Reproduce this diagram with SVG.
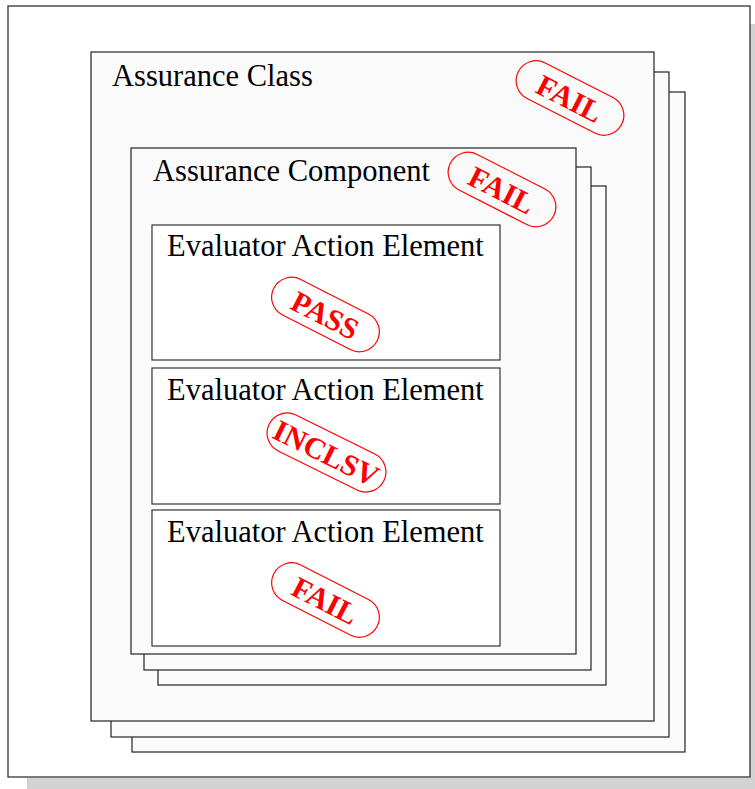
<svg xmlns="http://www.w3.org/2000/svg" width="755" height="789" viewBox="0 0 755 789">
  <style>
    .frame { fill: #ffffff; stroke: #333333; stroke-width: 1.3; }
    .sheet { fill: #fafafa; stroke: #222222; stroke-width: 1.2; }
    .box { fill: #ffffff; stroke: #333333; stroke-width: 1.2; }
    .label { font-family: "Liberation Serif", "Times New Roman", serif; font-size: 30.5px; fill: #000000; }
    .pill { fill: none; stroke: #ff0000; stroke-width: 1.2; }
    .verdict { font-family: "Liberation Serif", "Times New Roman", serif; font-size: 30px; font-weight: bold; fill: #ff0000; text-anchor: middle; }
  </style>

  <!-- page with drop shadow -->
  <rect x="27" y="778" width="728" height="11" fill="#d3d3d3"/>
  <rect x="750" y="24" width="5" height="765" fill="#d3d3d3"/>
  <rect class="frame" x="8" y="6" width="742" height="771"/>

  <!-- assurance class stack -->
  <g id="assurance-class">
    <rect class="sheet" x="132" y="92" width="553" height="660"/>
    <rect class="sheet" x="111" y="72" width="558" height="665"/>
    <rect class="sheet" x="91" y="52" width="563" height="669"/>
    <text class="label" x="112" y="86">Assurance Class</text>
    <g transform="translate(570,98) rotate(27)">
      <rect class="pill" x="-58" y="-20" width="116" height="40" rx="20"/>
      <text class="verdict" x="0" y="11">FAIL</text>
    </g>
  </g>

  <!-- assurance component stack -->
  <g id="assurance-component">
    <rect class="sheet" x="158" y="186" width="448" height="499"/>
    <rect class="sheet" x="144" y="167" width="447" height="503"/>
    <rect class="sheet" x="131" y="148" width="445" height="506"/>
    <text class="label" x="153" y="181">Assurance Component</text>
    <g transform="translate(502,189.5) rotate(27)">
      <rect class="pill" x="-58" y="-20" width="116" height="40" rx="20"/>
      <text class="verdict" x="0" y="11">FAIL</text>
    </g>
  </g>

  <!-- evaluator action elements -->
  <g id="element-1">
    <rect class="box" x="152" y="225" width="348" height="135"/>
    <text class="label" x="167" y="256">Evaluator Action Element</text>
    <g transform="translate(325.5,314.5) rotate(27)">
      <rect class="pill" x="-58" y="-20" width="116" height="40" rx="20"/>
      <text class="verdict" x="0" y="11">PASS</text>
    </g>
  </g>

  <g id="element-2">
    <rect class="box" x="152" y="368" width="348" height="136"/>
    <text class="label" x="167" y="400">Evaluator Action Element</text>
    <g transform="translate(326.5,452.5) rotate(26.3)">
      <rect class="pill" x="-64" y="-20" width="128" height="40" rx="20"/>
      <text class="verdict" x="0" y="11">INCLSV</text>
    </g>
  </g>

  <g id="element-3">
    <rect class="box" x="152" y="510" width="348" height="136"/>
    <text class="label" x="167" y="542">Evaluator Action Element</text>
    <g transform="translate(325.5,600) rotate(27)">
      <rect class="pill" x="-58" y="-20" width="116" height="40" rx="20"/>
      <text class="verdict" x="0" y="11">FAIL</text>
    </g>
  </g>

  <g id="connectors"></g>
</svg>
